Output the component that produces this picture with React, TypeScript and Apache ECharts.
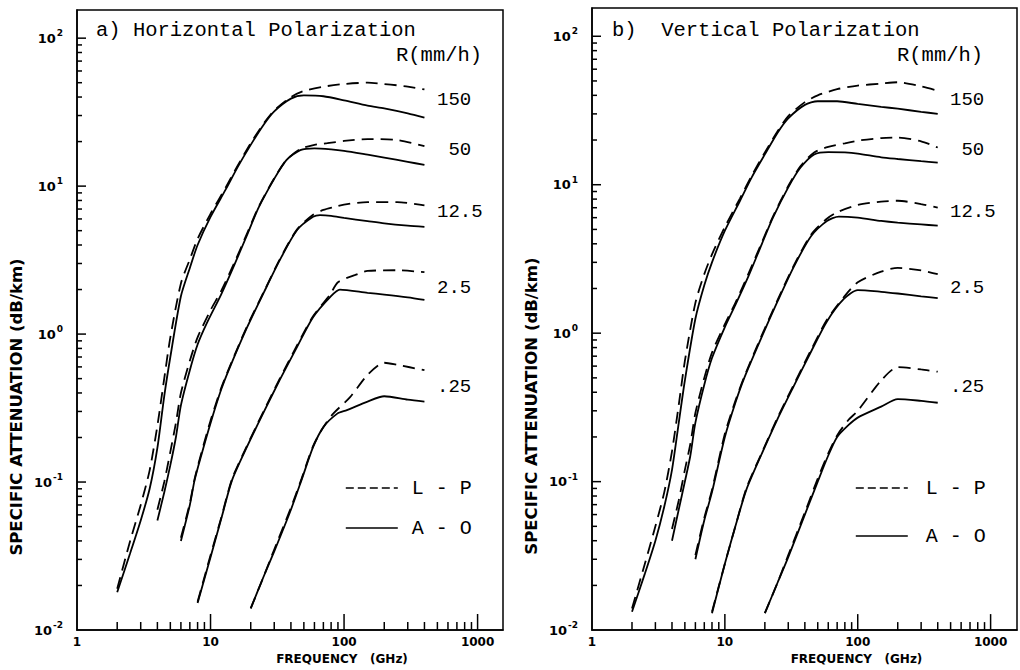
import React, { useEffect, useRef } from "react";
import * as echarts from "echarts";

type P = [number, number];

// ---------- Panel a) Horizontal polarization (frequency GHz, attenuation dB/km) ----------
const hLP150: P[] = [[2,0.019],[2.5,0.04],[3,0.07],[3.5,0.12],[4,0.24],[4.5,0.5],[5,0.95],[6,2.2],[7,3.2],[8,4.4],[10,6.5],[13,9.8],[16,13.8],[20,19.5],[25,26.5],[30,32.5],[40,40],[50,44],[70,47],[100,49],[150,50],[200,49],[250,48],[300,47],[400,45]];
const hAO150: P[] = [[2,0.018],[2.5,0.033],[3,0.055],[3.5,0.09],[4,0.17],[4.5,0.38],[5,0.7],[6,1.8],[7,2.8],[8,4.0],[10,6.2],[13,9.5],[16,13.5],[20,19],[25,26],[30,32],[40,39],[50,41],[70,40.5],[100,38],[150,35],[200,33.5],[300,31],[400,29]];
const hLP50: P[] = [[4,0.065],[4.5,0.1],[5,0.16],[5.5,0.25],[6,0.4],[7,0.66],[8,0.95],[10,1.45],[12,1.95],[15,3.0],[19,4.9],[23,7.3],[30,11.3],[37,15],[47,17.8],[60,19],[75,19.5],[100,20.2],[150,20.8],[250,20.5],[400,18.6]];
const hAO50: P[] = [[4,0.055],[4.5,0.085],[5,0.13],[5.5,0.2],[6,0.33],[7,0.57],[8,0.85],[9.4,1.19],[12,1.85],[15,2.9],[19,4.8],[23,7.2],[30,11.2],[37,15],[47,17.5],[60,18],[80,17.7],[100,17.3],[150,16.3],[200,15.6],[300,14.6],[400,13.9]];
const hLP12: P[] = [[6,0.042],[7,0.072],[7.6,0.105],[8.5,0.155],[10,0.26],[12,0.43],[14,0.61],[18.7,1.12],[25,1.92],[33,3.2],[44.5,5.1],[58.6,6.4],[70,6.9],[83,7.2],[100,7.5],[150,7.8],[250,7.8],[400,7.4]];
const hAO12: P[] = [[6,0.04],[7,0.07],[7.6,0.103],[8.5,0.15],[10,0.25],[12,0.42],[14,0.6],[18.7,1.1],[25,1.9],[33,3.16],[44.5,5.05],[58.6,6.2],[66,6.37],[80,6.3],[100,6.1],[150,5.8],[200,5.6],[300,5.4],[400,5.3]];
const hLP2: P[] = [[8,0.0155],[10,0.032],[12,0.057],[14.5,0.105],[18.7,0.175],[24.7,0.295],[33,0.5],[44.5,0.84],[58.6,1.32],[78.6,1.85],[90,2.24],[120,2.5],[150,2.67],[250,2.7],[400,2.62]];
const hAO2: P[] = [[8,0.0152],[10,0.031],[12,0.056],[14.5,0.103],[18.7,0.172],[24.7,0.29],[33,0.49],[44.5,0.82],[58.6,1.3],[78.6,1.78],[93,2.0],[150,1.9],[200,1.85],[300,1.77],[400,1.7]];
const hLP025: P[] = [[20,0.014],[25,0.023],[30,0.035],[40,0.067],[48,0.105],[58.6,0.175],[70,0.235],[83,0.29],[111,0.375],[150,0.53],[200,0.64],[250,0.62],[400,0.57]];
const hAO025: P[] = [[20,0.014],[25,0.023],[30,0.034],[40,0.065],[48,0.103],[58.6,0.172],[70,0.235],[89,0.29],[105,0.306],[150,0.35],[200,0.38],[300,0.36],[400,0.35]];

// ---------- Panel b) Vertical polarization ----------
const vLP150: P[] = [[2,0.014],[2.5,0.028],[3,0.05],[3.5,0.085],[4,0.16],[4.5,0.33],[5,0.65],[6,1.6],[7,2.5],[8,3.4],[10,5.2],[13,8.1],[16,11.6],[20,16.5],[25,23],[30,29],[40,36],[50,40],[70,44],[100,46.5],[150,48],[200,49],[300,46],[400,43]];
const vAO150: P[] = [[2,0.0133],[2.5,0.024],[3,0.04],[3.5,0.068],[4,0.12],[4.5,0.25],[5,0.48],[6,1.25],[7,2.1],[8,3.0],[10,4.9],[13,7.8],[16,11.3],[20,16],[25,22.5],[30,28],[40,34.5],[50,36.5],[70,36.5],[100,35],[150,33.5],[200,32.5],[300,31],[400,30]];
const vLP50: P[] = [[4,0.048],[4.5,0.075],[5,0.12],[5.5,0.18],[6,0.29],[7,0.5],[8,0.74],[10,1.15],[12,1.6],[15,2.5],[19,4.1],[23,6.1],[30,9.8],[37,13.3],[47,16.5],[60,18],[80,19],[100,19.8],[150,20.6],[200,20.8],[300,19.6],[400,17.8]];
const vAO50: P[] = [[4,0.04],[4.5,0.065],[5,0.1],[5.5,0.15],[6,0.25],[7,0.45],[8,0.68],[10,1.1],[12,1.55],[15,2.4],[19,4.0],[23,6.0],[30,9.6],[37,13],[47,16],[60,16.6],[80,16.5],[100,16.2],[150,15.3],[200,14.9],[300,14.4],[400,14.1]];
const vLP12: P[] = [[6,0.032],[7,0.057],[8,0.088],[10,0.21],[12,0.35],[14,0.51],[18.7,0.94],[25,1.68],[33,2.85],[44.5,4.6],[58.6,5.9],[72,6.6],[100,7.3],[150,7.7],[200,7.8],[300,7.4],[400,7.0]];
const vAO12: P[] = [[6,0.03],[7,0.055],[8,0.085],[10,0.2],[12,0.34],[14,0.5],[18.7,0.92],[25,1.65],[33,2.8],[44.5,4.5],[58.6,5.7],[72,6.1],[100,6.0],[150,5.7],[200,5.55],[300,5.4],[400,5.3]];
const vLP2: P[] = [[8,0.0133],[10,0.028],[12,0.05],[14.5,0.09],[18.7,0.152],[24.7,0.265],[33,0.45],[44.5,0.77],[58.6,1.23],[78.6,1.75],[100,2.2],[150,2.6],[200,2.75],[300,2.65],[400,2.5]];
const vAO2: P[] = [[8,0.013],[10,0.028],[12,0.05],[14.5,0.088],[18.7,0.15],[24.7,0.26],[33,0.44],[44.5,0.75],[58.6,1.2],[78.6,1.7],[100,1.95],[150,1.9],[200,1.85],[300,1.77],[400,1.72]];
const vLP025: P[] = [[20,0.013],[25,0.021],[30,0.032],[40,0.062],[50,0.105],[60,0.155],[70,0.205],[85,0.26],[100,0.3],[150,0.48],[200,0.59],[300,0.57],[400,0.55]];
const vAO025: P[] = [[20,0.013],[25,0.021],[30,0.031],[40,0.06],[50,0.1],[60,0.15],[70,0.2],[85,0.24],[100,0.27],[150,0.32],[200,0.36],[300,0.35],[400,0.34]];

// ---------- Labels and ticks ----------
const rainRates = ["150", " 50", "12.5", "2.5", ".25"];
const rainLabelY = [100, 150, 212, 288, 387];
const panelTitles = ["a) Horizontal Polarization", "b)  Vertical Polarization"];
const legendNames = ["L - P", "A - O"];
const xTickValues = [2,3,4,5,6,7,8,9,10,20,30,40,50,60,70,80,90,100,200,300,400,500,600,700,800,900,1000];
const yTickValues = [0.02,0.03,0.04,0.05,0.06,0.07,0.08,0.09,0.1,0.2,0.3,0.4,0.5,0.6,0.7,0.8,0.9,1,2,3,4,5,6,7,8,9,10,20,30,40,50,60,70,80,90,100];
const majorTicks = [0.1, 1, 10, 100, 1000];

const X_MIN = 1;
const Y_MIN = 0.01;
const Y_MAX = 155;

const isPow10 = (v: number) => {
  const e = Math.log10(v);
  return Math.abs(e - Math.round(e)) < 1e-6;
};

const mono = '"Liberation Mono", "DejaVu Sans Mono", monospace';
const bold = '"DejaVu Sans", sans-serif';

export default function App() {
  const ref = useRef<HTMLDivElement>(null);

  useEffect(() => {
    if (!ref.current) return;
    const chart = echarts.init(ref.current, undefined, { renderer: "svg" });

    const grids = [
      { left: 77, top: 10, width: 426, height: 620 },
      { left: 592, top: 8, width: 426, height: 623 },
    ];
    const xMax = [1550, 1580];

    const lineSeries = (name: string, data: P[], gi: number, dashed: boolean) => ({
      type: "line",
      name,
      xAxisIndex: gi,
      yAxisIndex: gi,
      data,
      symbol: "none",
      showSymbol: false,
      smooth: 0.25,
      silent: true,
      z: 3,
      itemStyle: { color: "#000" },
      lineStyle: { color: "#000", width: 1.8, type: dashed ? [12, 7] : "solid" },
    });

    const tickSeries = (gi: number, axis: "x" | "y") => ({
      type: "custom",
      xAxisIndex: gi,
      yAxisIndex: gi,
      silent: true,
      z: 5,
      data: (axis === "x" ? xTickValues : yTickValues).map((v) =>
        axis === "x" ? [v, Y_MIN, majorTicks.includes(v) ? 1 : 0] : [X_MIN, v, majorTicks.includes(v) ? 1 : 0]
      ),
      renderItem: (_params: any, api: any) => {
        const p = api.coord([api.value(0), api.value(1)]);
        const major = api.value(2) === 1;
        if (axis === "x") {
          const len = major ? 16 : 8;
          return {
            type: "line",
            shape: { x1: p[0], y1: p[1], x2: p[0], y2: p[1] - len },
            style: { stroke: "#000", lineWidth: 1.5 },
          };
        }
        const len = major ? 9 : 5;
        return {
          type: "line",
          shape: { x1: p[0], y1: p[1], x2: p[0] + len, y2: p[1] },
          style: { stroke: "#000", lineWidth: 1.5 },
        };
      },
    });

    const panels = [
      [hLP150, hAO150, hLP50, hAO50, hLP12, hAO12, hLP2, hAO2, hLP025, hAO025],
      [vLP150, vAO150, vLP50, vAO50, vLP12, vAO12, vLP2, vAO2, vLP025, vAO025],
    ];

    const series: any[] = [];
    panels.forEach((curves, gi) => {
      curves.forEach((d, i) => {
        const dashed = i % 2 === 0;
        series.push(lineSeries(dashed ? legendNames[0] : legendNames[1], d, gi, dashed));
      });
      series.push(tickSeries(gi, "x"));
      series.push(tickSeries(gi, "y"));
    });

    const textEl = (text: string, x: number, y: number, size = 20.5) => ({
      type: "text",
      x,
      y,
      silent: true,
      style: { text, fill: "#000", font: `${size}px ${mono}`, align: "left", verticalAlign: "middle" },
    });

    const panelX = [
      { title: 96, rlabel: 396, rates: 437 },
      { title: 612, rlabel: 897, rates: 950 },
    ];
    const graphic: any[] = [];
    panelX.forEach((px, gi) => {
      graphic.push(textEl(panelTitles[gi], px.title, 30));
      graphic.push(textEl("R(mm/h)", px.rlabel, 55));
      rainRates.forEach((r, i) => graphic.push(textEl(r, px.rates, rainLabelY[i], 19)));
    });

    const option: any = {
      animation: false,
      backgroundColor: "#fff",
      grid: grids.map((g) => ({ ...g, show: true, borderColor: "#000", borderWidth: 1.5, backgroundColor: "transparent" })),
      xAxis: grids.map((_, gi) => ({
        type: "log",
        logBase: 10,
        gridIndex: gi,
        min: X_MIN,
        max: xMax[gi],
        axisLine: { show: true, lineStyle: { color: "#000", width: 1.5 } },
        axisTick: { show: false },
        minorTick: { show: false },
        splitLine: { show: false },
        axisLabel: {
          color: "#000",
          fontFamily: bold,
          fontWeight: "bold",
          fontSize: 12,
          margin: 6,
          formatter: (v: number) => (isPow10(v) ? String(Math.round(v)) : ""),
        },
        name: "FREQUENCY   (GHz)",
        nameLocation: "middle",
        nameGap: 22,
        nameTextStyle: { color: "#000", fontFamily: bold, fontWeight: "bold", fontSize: 12, padding: [0, 0, 0, 104] },
      })),
      yAxis: grids.map((_, gi) => ({
        type: "log",
        logBase: 10,
        gridIndex: gi,
        min: Y_MIN,
        max: Y_MAX,
        axisLine: { show: true, lineStyle: { color: "#000", width: 1.5 } },
        axisTick: { show: false },
        minorTick: { show: false },
        splitLine: { show: false },
        axisLabel: {
          margin: 14,
          formatter: (v: number) => {
            if (!isPow10(v)) return "";
            return "{b|10}{s|" + Math.round(Math.log10(v)) + "}";
          },
          rich: {
            b: { color: "#000", fontFamily: bold, fontWeight: "bold", fontSize: 13 },
            s: { color: "#000", fontFamily: bold, fontWeight: "bold", fontSize: 9, padding: [0, 0, 10, 1] },
          },
        },
        name: "SPECIFIC ATTENUATION (dB/km)",
        nameLocation: "middle",
        nameGap: 52,
        nameTextStyle: { color: "#000", fontFamily: bold, fontWeight: "bold", fontSize: 16.5, padding: [0, 174, 0, 0] },
      })),
      legend: [
        { left: 340, top: 473, itemGap: 20, pad: 9 },
        { left: 850, top: 473, itemGap: 28, pad: 13 },
      ].map((l) => ({
        left: l.left,
        top: l.top,
        itemGap: l.itemGap,
        orient: "vertical",
        itemWidth: 52,
        itemHeight: 14,
        selectedMode: false,
        itemStyle: { opacity: 0 },
        data: [
          { name: legendNames[0], lineStyle: { type: [8, 4], width: 1.6 } },
          { name: legendNames[1], lineStyle: { type: "solid", width: 1.6 } },
        ],
        textStyle: { color: "#000", fontFamily: mono, fontSize: 20, padding: [0, 0, 0, l.pad] },
      })),
      series,
      graphic,
    };

    chart.setOption(option);
    return () => chart.dispose();
  }, []);

  return (
    <div
      ref={ref}
      style={{ position: "fixed", left: 0, top: 0, width: 1020, height: 670, background: "#fff" }}
    />
  );
}
